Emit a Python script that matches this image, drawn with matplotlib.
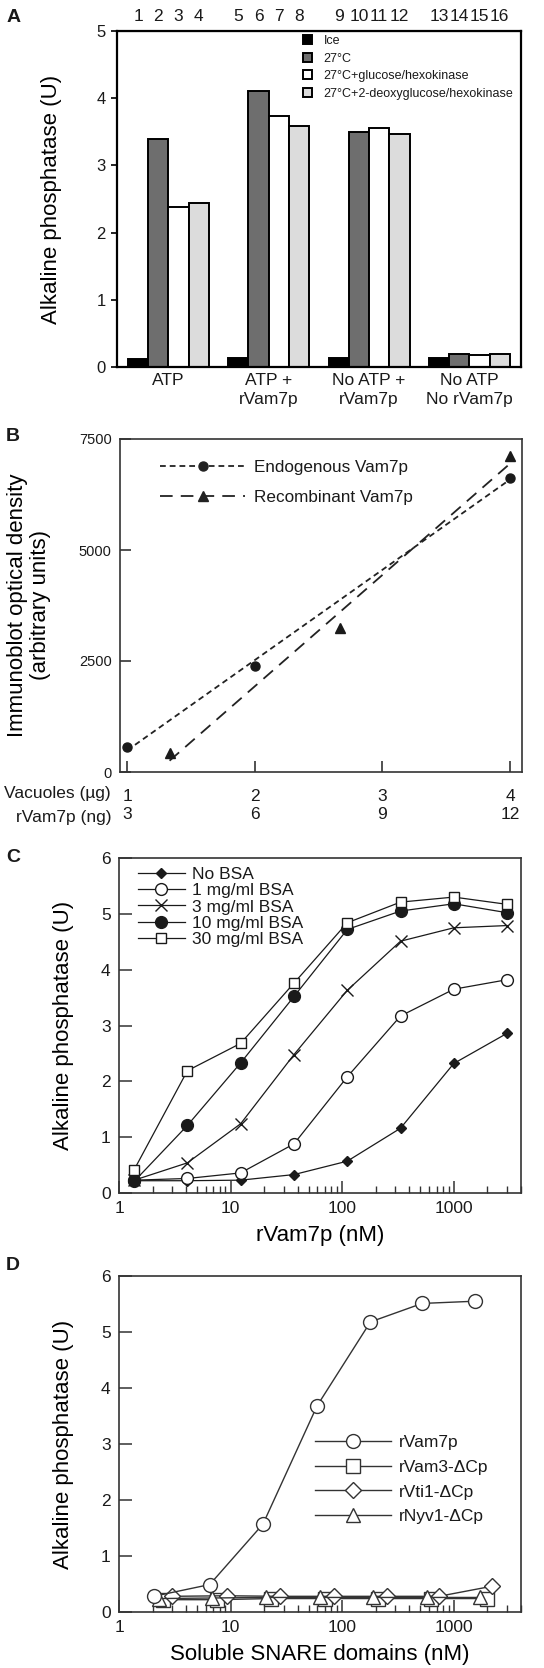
import numpy as np
import matplotlib.pyplot as plt
from matplotlib.patches import Patch
from matplotlib.lines import Line2D
from matplotlib.ticker import LogLocator, NullFormatter

plt.rcParams['font.family'] = ['Liberation Sans', 'DejaVu Sans']
plt.rcParams['text.color'] = '#1a1a1a'
plt.rcParams['axes.edgecolor'] = '#333333'
plt.rcParams['xtick.color'] = '#333333'
plt.rcParams['ytick.color'] = '#333333'
plt.rcParams['xtick.labelcolor'] = '#1a1a1a'
plt.rcParams['ytick.labelcolor'] = '#1a1a1a'

# ---------- dados painel A ----------
grupos_a = ['ATP', 'ATP +\nrVam7p', 'No ATP +\nrVam7p', 'No ATP\nNo rVam7p']
condicoes_a = ['Ice', '27°C', '27°C+glucose/hexokinase', '27°C+2-deoxyglucose/hexokinase']
ice_a = [0.12, 0.13, 0.14, 0.13]
c27_a = [3.40, 4.10, 3.50, 0.19]
glucose_a = [2.38, 3.73, 3.56, 0.18]
deoxy_a = [2.44, 3.58, 3.46, 0.19]
faixas_a = [str(i) for i in range(1, 17)]

# ---------- dados painel B ----------
vacuoles_ug = [1, 2, 4]
endogenous_od = [570, 2390, 6630]
rvam_ng_pts = [4, 8, 12]
recombinant_od = [430, 3250, 7120]
vac_ticks = [1, 2, 3, 4]
rvam_ticks = [3, 6, 9, 12]

# ---------- dados painel C ----------
rvam_nm = [1.37, 4.1, 12.3, 37, 111, 333, 1000, 3000]
no_bsa = [0.22, 0.22, 0.23, 0.33, 0.57, 1.16, 2.32, 2.86]
bsa_1 = [0.23, 0.26, 0.36, 0.88, 2.08, 3.17, 3.65, 3.82]
bsa_3 = [0.23, 0.54, 1.24, 2.48, 3.63, 4.51, 4.75, 4.79]
bsa_10 = [0.21, 1.21, 2.33, 3.52, 4.72, 5.05, 5.18, 5.02]
bsa_30 = [0.42, 2.19, 2.68, 3.76, 4.84, 5.21, 5.30, 5.17]

# ---------- dados painel D ----------
x_vam7 = [2.05, 6.5, 19.5, 59.5, 179, 520, 1560]
y_vam7 = [0.28, 0.49, 1.57, 3.68, 5.18, 5.51, 5.55]
x_vam3 = [2.5, 7.6, 23, 70, 210, 630, 2000]
y_vam3 = [0.22, 0.22, 0.24, 0.24, 0.24, 0.24, 0.24]
x_vti1 = [2.98, 9.2, 27.9, 84, 252, 735, 2200]
y_vti1 = [0.28, 0.29, 0.28, 0.28, 0.28, 0.28, 0.46]
x_nyv1 = [2.3, 6.8, 20.8, 62.6, 188, 570, 1700]
y_nyv1 = [0.24, 0.25, 0.26, 0.26, 0.26, 0.26, 0.26]

W, H = 544, 1668
fig = plt.figure(figsize=(W / 100, H / 100), dpi=100)


def eixo(l, t, r, b):
    # caixa em pixels -> fração da figura
    return fig.add_axes([l / W, 1 - b / H, (r - l) / W, (b - t) / H])


def rotulo_y(ax, texto, xpix, l, r, **kw):
    ax.set_ylabel(texto, fontsize=16, ha='center', va='center',
                  rotation_mode='default', **kw)
    ax.yaxis.set_label_coords((xpix - l) / (r - l), 0.5)


# ================= A =================
ax = eixo(117, 31, 521, 367)
cores = ['black', '#6e6e6e', 'white', '#dcdcdc']
series = [ice_a, c27_a, glucose_a, deoxy_a]
gap = 0.95
posicoes = []
for i, (vals, cor) in enumerate(zip(series, cores)):
    xs = [g * 4 + i + g * gap for g in range(len(grupos_a))]
    ax.bar(xs, vals, width=1.0, color=cor, edgecolor='black', linewidth=1.4)
    posicoes += xs
posicoes = sorted(posicoes)
centros = [g * 4 + 1.5 + g * gap for g in range(len(grupos_a))]
ax.set_xlim(-1.04, 18.9)
ax.set_ylim(0, 5)
ax.set_yticks(range(6))
ax.tick_params(axis='y', direction='out', length=4, width=1.2, labelsize=12, pad=4, color='black')
ax.set_xticks(centros, grupos_a)
ax.tick_params(axis='x', length=0, labelsize=12.5, pad=4)
for lbl in ax.get_xticklabels():
    lbl.set_linespacing(1.35)
for s in ax.spines.values():
    s.set_linewidth(1.6)
    s.set_color('black')
sec = ax.secondary_xaxis('top')
sec.set_xticks(posicoes, faixas_a)
sec.tick_params(length=0, labelsize=12.5, pad=5)
rotulo_y(ax, 'Alkaline phosphatase (U)', 52, 117, 521)
handles = [Patch(facecolor=c, edgecolor='black', linewidth=1.4) for c in cores]
ax.legend(handles, condicoes_a, loc='upper left', bbox_to_anchor=(303 / W, 1 - 35 / H),
          bbox_transform=fig.transFigure, frameon=False,
          handlelength=0.75, handleheight=0.75, handletextpad=0.9, labelspacing=0.45,
          borderpad=0, borderaxespad=0,
          prop={'family': ['Liberation Sans Narrow', 'Liberation Sans'], 'size': 9.0})
fig.text(14 / W, 1 - 18 / H, 'A', fontsize=14, fontweight='bold', ha='center', va='center')

# ================= B =================
ax = eixo(120, 439, 522, 772)
x_rec = np.array(rvam_ng_pts) / 3.0
tr_end = (0, (3.2, 2.2))
tr_rec = (0, (7, 4.5))
p = np.polyfit(vacuoles_ug, endogenous_od, 1)
xf = np.array([min(vacuoles_ug), max(vacuoles_ug)])
ax.plot(xf, np.polyval(p, xf), color='#222222', lw=1.3, ls=tr_end)
p2 = np.polyfit(x_rec, recombinant_od, 1)
xf2 = np.array([x_rec.min(), x_rec.max()])
ax.plot(xf2, np.polyval(p2, xf2), color='#222222', lw=1.3, ls=tr_rec)
ax.plot(vacuoles_ug, endogenous_od, 'o', color='#1a1a1a', ms=6.5)
ax.plot(x_rec, recombinant_od, '^', color='#1a1a1a', ms=6.5)
ax.set_xlim(0.945, 4.094)
ax.set_ylim(0, 7500)
ax.set_yticks([0, 2500, 5000, 7500])
ax.tick_params(axis='y', direction='in', length=8, width=1.2, labelsize=10.5, pad=6)
ax.set_xticks(vac_ticks, [f'{v}\n{r}' for v, r in zip(vac_ticks, rvam_ticks)])
ax.tick_params(axis='x', direction='in', length=8, width=1.2, labelsize=12.5, pad=12)
for lbl in ax.get_xticklabels():
    lbl.set_linespacing(1.3)
for s in ax.spines.values():
    s.set_linewidth(1.2)
fig.text(111 / W, 1 - 794 / H, 'Vacuoles (µg)', fontsize=12.5, ha='right', va='center')
fig.text(111 / W, 1 - 817 / H, 'rVam7p (ng)', fontsize=12.5, ha='right', va='center')
rotulo_y(ax, 'Immunoblot optical density\n(arbitrary units)', 29, 120, 522, linespacing=1.1)
h_b = [Line2D([], [], color='#222222', lw=1.3, ls=tr_end, marker='o', ms=6.5),
       Line2D([], [], color='#222222', lw=1.3, ls=tr_rec, marker='^', ms=6.5)]
ax.legend(h_b, ['Endogenous Vam7p', 'Recombinant Vam7p'], loc='upper left',
          bbox_to_anchor=(160 / W, 1 - 460 / H), bbox_transform=fig.transFigure,
          frameon=False, fontsize=12.3, handlelength=5.0, handletextpad=0.5,
          labelspacing=0.9, borderpad=0, borderaxespad=0)
fig.text(13 / W, 1 - 437 / H, 'B', fontsize=14, fontweight='bold', ha='center', va='center')


def eixo_log(ax):
    ax.set_xscale('log')
    ax.set_xlim(1, 4000)
    ax.set_ylim(0, 6)
    ax.set_yticks(range(7))
    ax.set_xticks([1, 10, 100, 1000], ['1', '10', '100', '1000'])
    ax.xaxis.set_minor_locator(LogLocator(base=10, subs=np.arange(2, 10)))
    ax.xaxis.set_minor_formatter(NullFormatter())
    ax.tick_params(which='major', direction='in', length=9, width=1.1, labelsize=12.5, pad=6)
    ax.tick_params(which='minor', direction='in', length=5, width=1.0)
    ax.tick_params(axis='x', which='both', top=False)
    for s in ax.spines.values():
        s.set_linewidth(1.2)


# ================= C =================
ax = eixo(119, 858, 521, 1193)
eixo_log(ax)
kw = dict(color='#1a1a1a', lw=0.9)
ax.plot(rvam_nm, no_bsa, marker='D', ms=5.5, mfc='#1a1a1a', mec='#1a1a1a', label='No BSA', **kw)
ax.plot(rvam_nm, bsa_1, marker='o', ms=8.5, mfc='white', mec='#1a1a1a', label='1 mg/ml BSA', **kw)
ax.plot(rvam_nm, bsa_3, marker='x', ms=8, mew=1.0, mec='#1a1a1a', label='3 mg/ml BSA', **kw)
ax.plot(rvam_nm, bsa_10, marker='o', ms=8.5, mfc='#1a1a1a', mec='#1a1a1a', label='10 mg/ml BSA', **kw)
ax.plot(rvam_nm, bsa_30, marker='s', ms=7, mfc='white', mec='#1a1a1a', label='30 mg/ml BSA', **kw)
ax.set_xlabel('rVam7p (nM)', fontsize=16, labelpad=6)
rotulo_y(ax, 'Alkaline phosphatase (U)', 63, 119, 521)
ax.legend(loc='upper left', bbox_to_anchor=(138 / W, 1 - 867 / H), bbox_transform=fig.transFigure,
          frameon=False, fontsize=12.5, handlelength=2.7, handletextpad=0.4,
          labelspacing=0.06, borderpad=0, borderaxespad=0)
fig.text(13 / W, 1 - 858 / H, 'C', fontsize=14, fontweight='bold', ha='center', va='center')

# ================= D =================
ax = eixo(119, 1276, 521, 1612)
eixo_log(ax)
kw = dict(color='#333333', lw=1.0, ms=10, mfc='white', mec='#333333', mew=1.0)
ax.plot(x_vam7, y_vam7, marker='o', label='rVam7p', zorder=3, **kw)
ax.plot(x_vam3, y_vam3, marker='s', label='rVam3-ΔCp', **kw)
ax.plot(x_vti1, y_vti1, marker='D', label='rVti1-ΔCp', **dict(kw, ms=8))
ax.plot(x_nyv1, y_nyv1, marker='^', label='rNyv1-ΔCp', **kw)
ax.set_xlabel('Soluble SNARE domains (nM)', fontsize=16, labelpad=6)
rotulo_y(ax, 'Alkaline phosphatase (U)', 64, 119, 521)
ax.legend(loc='upper left', bbox_to_anchor=(315 / W, 1 - 1435 / H), bbox_transform=fig.transFigure,
          frameon=False, fontsize=12.5, handlelength=4.4, handletextpad=0.45,
          labelspacing=0.55, borderpad=0, borderaxespad=0)
fig.text(13 / W, 1 - 1265 / H, 'D', fontsize=14, fontweight='bold', ha='center', va='center')

plt.savefig('out.png', dpi=100)
plt.close()
